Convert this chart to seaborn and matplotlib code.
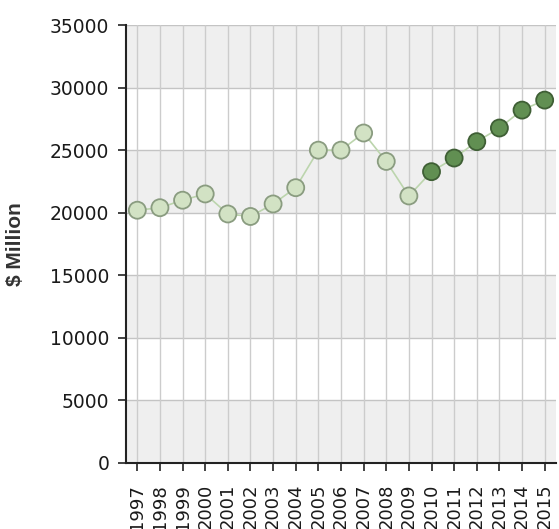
import matplotlib
matplotlib.use("Agg")
import matplotlib.pyplot as plt
import seaborn as sns
import pandas as pd
import numpy as np

years = ["1997", "1998", "1999", "2000", "2001", "2002", "2003", "2004", "2005", "2006",
         "2007", "2008", "2009", "2010", "2011", "2012", "2013", "2014", "2015"]
values = [20200, 20400, 21000, 21500, 19900, 19700, 20700, 22000, 25000, 25000,
          26370, 24100, 21340, 23280, 24370, 25680, 26770, 28200, 29000]
period = ["hist"] * 13 + ["proj"] * 6
y_ticks = [0, 5000, 10000, 15000, 20000, 25000, 30000, 35000]
y_label = "$ Million"

sns.set_style("white")
plt.rcParams['font.family'] = ['DejaVu Sans']

df = pd.DataFrame({"year": years, "value": values, "period": period})
df["pos"] = np.arange(len(df))

fig = plt.figure(figsize=(5.59, 5.29), dpi=100)
ax = fig.add_axes([0.2254, 0.1248, 0.9946 - 0.2254, 0.9527 - 0.1248])

# alternating bands
for i in range(len(y_ticks) - 1):
    if (len(y_ticks) - 2 - i) % 2 == 0:
        ax.axhspan(y_ticks[i], y_ticks[i + 1], color="#efefef", zorder=0, lw=0)
for yt in y_ticks[1:]:
    ax.axhline(yt, color="#c4c4c4", lw=1.0, zorder=1)
for p in df["pos"]:
    ax.axvline(p, color="#cccccc", lw=1.0, zorder=1)

sns.lineplot(data=df, x="pos", y="value", ax=ax, color="#bcd5ad", lw=1.2,
             zorder=2, legend=False)
sns.scatterplot(data=df, x="pos", y="value", hue="period", ax=ax,
                palette={"hist": "#d2e2c4", "proj": "#618f52"},
                s=150, linewidth=1.3, legend=False, zorder=3,
                edgecolor=None)
coll = ax.collections[-1]
edge = ["#8a9c80" if p == "hist" else "#3f5f35" for p in df["period"]]
coll.set_edgecolors(edge)

ax.set_xlim(-0.5, len(years) - 0.5)
ax.set_ylim(0, 35000)
ax.set_yticks(y_ticks)
ax.set_yticklabels([str(v) for v in y_ticks], fontsize=13.5, color="#1a1a1a")
ax.set_xticks(df["pos"])
ax.set_xticklabels(years, rotation=90, fontsize=13, color="#1a1a1a")
ax.tick_params(axis="y", direction="out", length=6, width=1.2, color="#222222",
               left=True, pad=6)
ax.tick_params(axis="x", direction="out", length=6, width=1.2, color="#222222",
               bottom=True, pad=9)
ax.set_xlabel("")
ax.set_ylabel(y_label, fontsize=15, fontweight="bold", color="#333333",
              family=["Liberation Sans", "DejaVu Sans"])
ax.yaxis.set_label_coords(-101 / 430, 0.5)

for s in ["top", "right"]:
    ax.spines[s].set_visible(False)
for s in ["left", "bottom"]:
    ax.spines[s].set_color("#222222")
    ax.spines[s].set_linewidth(1.5)

fig.savefig("out.png", dpi=100)
